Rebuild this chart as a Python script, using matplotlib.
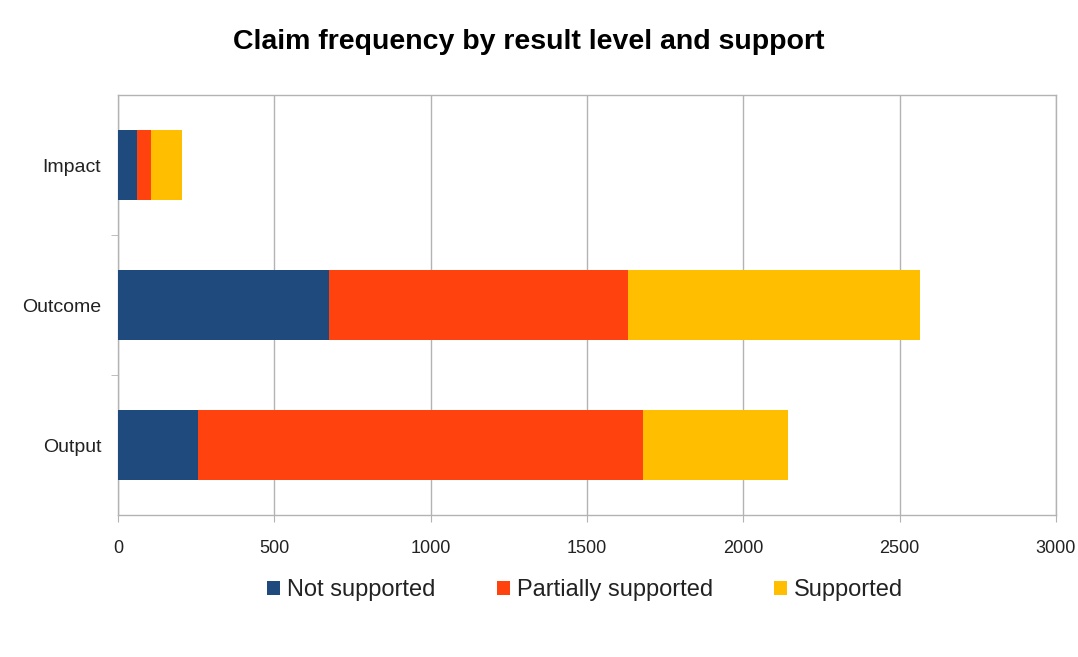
import matplotlib
matplotlib.use("Agg")
import matplotlib.pyplot as plt
from matplotlib.patches import Patch
import numpy as np

categories = ["Output", "Outcome", "Impact"]
series_names = ["Not supported", "Partially supported", "Supported"]
not_supported = [256, 675, 60]
partially_supported = [1423, 955, 45]
supported = [463, 935, 99]
colors = ["#1f4a7e", "#ff420e", "#ffbf00"]
xticks = [0, 500, 1000, 1500, 2000, 2500, 3000]

plt.rcParams['font.family'] = ['Liberation Sans', 'DejaVu Sans']

fig = plt.figure(figsize=(10.78, 6.57), dpi=100)
ax = fig.add_axes([118/1078, 1-515/657, (1056-118)/1078, (515-95)/657])

y = np.arange(len(categories))
left = np.zeros(len(categories))
for vals, name, c in zip([not_supported, partially_supported, supported], series_names, colors):
    ax.barh(y, vals, left=left, height=0.5, color=c, label=name, zorder=3)
    left += np.array(vals)

ax.set_xlim(0, 3000)
ax.set_ylim(-0.5, 2.5)
ax.set_xticks(xticks)
ax.set_xticklabels([str(t) for t in xticks], fontsize=13, color='#222222')
ax.set_yticks(y)
ax.set_yticklabels(categories, fontsize=14, color='#222222')
ax.set_yticks([0.5, 1.5], minor=True)
ax.tick_params(axis='y', which='major', length=0, pad=12)
ax.tick_params(axis='y', which='minor', length=5, color='#b3b3b3', direction='out')
ax.tick_params(axis='x', length=5, color='#b3b3b3', direction='out', pad=13)
ax.grid(axis='x', color='#b3b3b3', linewidth=1, zorder=0)
for s in ax.spines.values():
    s.set_color('#b3b3b3')
    s.set_linewidth(1)

fig.suptitle("Claim frequency by result level and support", x=529/1078,
             y=1-42/657, va='center', fontsize=20.5, fontweight='bold')

handles = [Patch(facecolor=c, label=n) for c, n in zip(colors, series_names)]
fig.legend(handles=handles, loc='center', bbox_to_anchor=(585/1078, 1-590/657), ncol=3,
           frameon=False, fontsize=17, handlelength=0.55, handleheight=0.55,
           handletextpad=0.3, columnspacing=2.6, labelcolor='#222222')

fig.savefig("out.png", dpi=100)
